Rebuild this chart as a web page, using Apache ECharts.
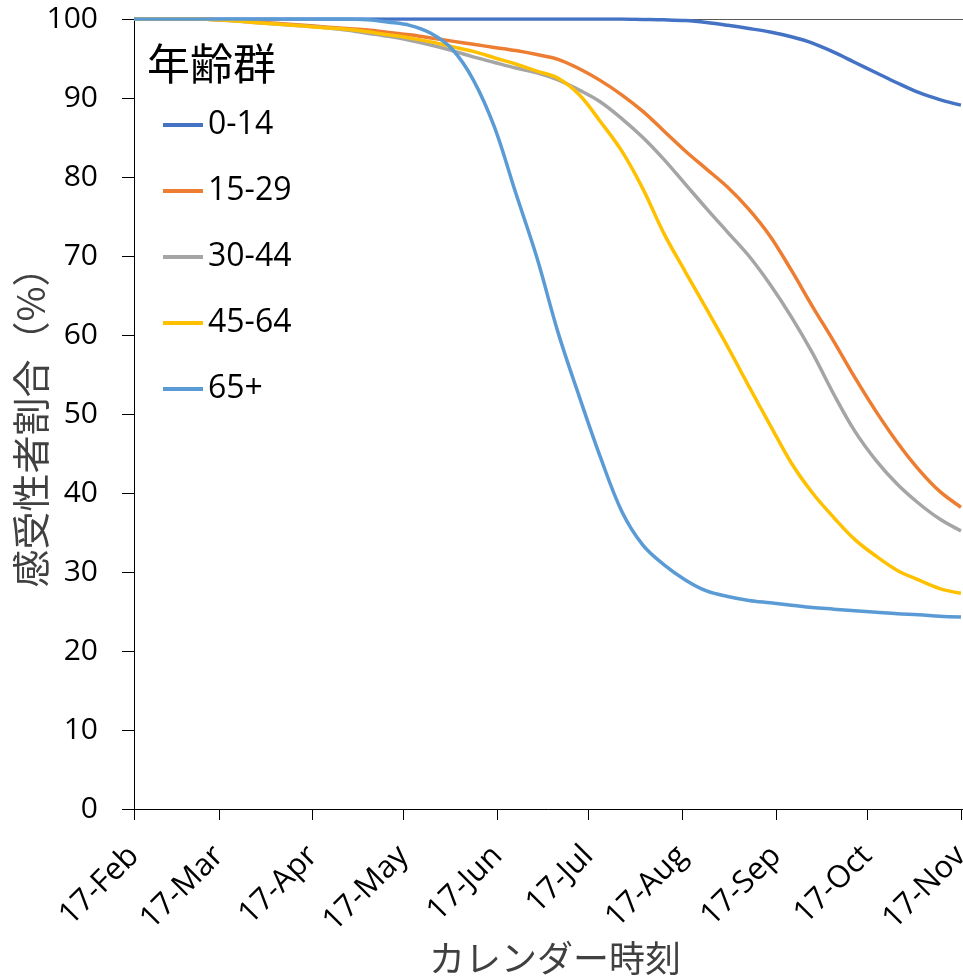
<!DOCTYPE html>
<html>
<head>
<meta charset="utf-8">
<script src="https://cdn.jsdelivr.net/npm/echarts@6/dist/echarts.min.js"></script>
<style>
html,body{margin:0;padding:0;background:#fff;}
#chart{width:963px;height:976px;}
</style>
</head>
<body>
<div id="chart"></div>
<script>
// Sample dates (weekly)
const dates = [
 '2021-02-17','2021-02-24','2021-03-03','2021-03-10','2021-03-17','2021-03-24','2021-03-31',
 '2021-04-07','2021-04-14','2021-04-21','2021-04-28','2021-05-05','2021-05-12','2021-05-19',
 '2021-05-26','2021-06-02','2021-06-09','2021-06-16','2021-06-23','2021-06-30','2021-07-07',
 '2021-07-14','2021-07-21','2021-07-28','2021-08-04','2021-08-11','2021-08-18','2021-08-25',
 '2021-09-01','2021-09-08','2021-09-15','2021-09-22','2021-09-29','2021-10-06','2021-10-13',
 '2021-10-20','2021-10-27','2021-11-03','2021-11-10','2021-11-17'
];
const seriesNames = ['0-14','15-29','30-44','45-64','65+'];
const age0_14 = [100,100,100,100,100,100,100,100,100,100,100,100,100,100,100,100,100,100,100,100,
 100,100,100,100,99.95,99.9,99.8,99.55,99.2,98.8,98.35,97.75,96.95,95.8,94.5,93.2,91.9,90.7,89.8,89.1];
const age15_29 = [100,100,100,100,99.9,99.8,99.6,99.4,99.2,99.0,98.8,98.6,98.3,98.0,97.6,97.2,96.8,96.4,96.0,95.5,
 94.9,93.7,92.2,90.4,88.3,85.8,83.3,81.0,78.7,75.9,72.5,68.2,63.6,59.2,54.6,50.3,46.4,43.0,40.2,38.2];
const age30_44 = [100,100,100,100,99.9,99.7,99.5,99.3,99.1,98.9,98.6,98.2,97.8,97.3,96.7,96.0,95.2,94.5,93.8,93.2,
 92.3,91.0,89.5,87.4,85.0,82.2,79.1,76.0,73.0,70.0,66.4,62.3,57.7,52.5,47.8,44.1,41.1,38.7,36.7,35.2];
const age45_64 = [100,100,100,100,99.9,99.7,99.5,99.3,99.1,98.9,98.7,98.4,98.0,97.6,97.1,96.5,95.9,95.1,94.3,93.4,
 92.5,90.4,87.0,83.3,78.5,72.8,68.0,63.3,58.5,53.5,48.6,43.8,40.0,36.9,34.1,32.0,30.2,29.0,27.9,27.3];
const age65 = [100,100,100,100,100,100,100,100,100,100,100,99.9,99.6,99.2,98.2,96.2,92.3,86.3,78.0,69.8,
 60.3,52.2,44.5,37.7,33.4,30.9,29.0,27.6,26.9,26.4,26.1,25.8,25.5,25.3,25.1,24.9,24.7,24.6,24.4,24.3];
const tickDates = ['2021-02-17','2021-03-17','2021-04-17','2021-05-17','2021-06-17','2021-07-17',
 '2021-08-17','2021-09-17','2021-10-17','2021-11-17'];
const tickLabels = ['17-Feb','17-Mar','17-Apr','17-May','17-Jun','17-Jul','17-Aug','17-Sep','17-Oct','17-Nov'];
const colors = ['#4472C4','#ED7D31','#A5A5A5','#FFC000','#5B9BD5'];

const DAY = 86400000;
function dayOf(s){ const p = s.split('-').map(Number); return Math.round((Date.UTC(p[0], p[1]-1, p[2]) - Date.UTC(2021,1,17)) / DAY); }
const tickDays = tickDates.map(dayOf);
const xMin = 0;
const xMax = dayOf('2021-11-18');
const allVals = [age0_14, age15_29, age30_44, age45_64, age65];

const chart = echarts.init(document.getElementById('chart'), null, {renderer:'canvas'});
const latin = '"Open Sans", sans-serif';
const cjk = '"Noto Sans CJK JP", sans-serif';

chart.setOption({
  animation: false,
  backgroundColor: '#fff',
  color: colors,
  title: {
    text: '年齢群', left: 147, top: 42, padding: 0,
    textStyle: {fontFamily: cjk, fontSize: 43, fontWeight: 'normal', color: '#000'}
  },
  legend: {
    orient: 'vertical', left: 163, top: 109, padding: 0,
    icon: 'rect', itemWidth: 40, itemHeight: 4, itemGap: 34,
    data: seriesNames,
    textStyle: {fontFamily: latin, fontSize: 32, lineHeight: 32, color: '#000'}
  },
  grid: {left: 134, top: 19, width: 830, height: 790, containLabel: false, outerBoundsMode: 'none'},
  xAxis: [{
    type: 'value', min: xMin, max: xMax,
    name: 'カレンダー時刻', nameLocation: 'middle', nameGap: 131, nameMoveOverlap: false,
    nameTextStyle: {fontFamily: cjk, fontSize: 36, color: '#404040', padding: [0, 0, 0, 12]},
    axisLine: {show: true, lineStyle: {color: '#000', width: 1}},
    axisTick: {show: true, length: 11, lineStyle: {color: '#000'}, customValues: tickDays},
    axisLabel: {
      customValues: tickDays, rotate: 45, margin: 42, fontFamily: latin, fontSize: 31, color: '#000',
      formatter: function(v){ const i = tickDays.indexOf(v); return i >= 0 ? tickLabels[i] : ''; }
    },
    splitLine: {show: false}
  }, {
    type: 'value', min: xMin, max: xMax, position: 'top',
    axisLine: {show: true, lineStyle: {color: '#595959', width: 1}},
    axisTick: {show: false}, axisLabel: {show: false}, splitLine: {show: false}
  }],
  yAxis: {
    type: 'value', min: 0, max: 100, interval: 10,
    name: '感受性者割合（%）', nameLocation: 'middle', nameGap: 84, nameRotate: 90, nameMoveOverlap: false,
    nameTextStyle: {fontFamily: cjk, fontSize: 38, color: '#404040', padding: [0, 8, 0, 0]},
    axisLine: {show: true, lineStyle: {color: '#000', width: 1}},
    axisTick: {show: true, length: 12, lineStyle: {color: '#000'}},
    axisLabel: {margin: 36, fontFamily: latin, fontSize: 30, color: '#000'},
    splitLine: {show: false}
  },
  series: seriesNames.map((n, k) => ({
    name: n, type: 'line', xAxisIndex: 0, showSymbol: false, symbol: 'none',
    smooth: 0.35,
    lineStyle: {width: 3.5, color: colors[k]},
    itemStyle: {color: colors[k]},
    data: dates.map((d, i) => [dayOf(d), allVals[k][i]])
  }))
});
</script>
</body>
</html>
